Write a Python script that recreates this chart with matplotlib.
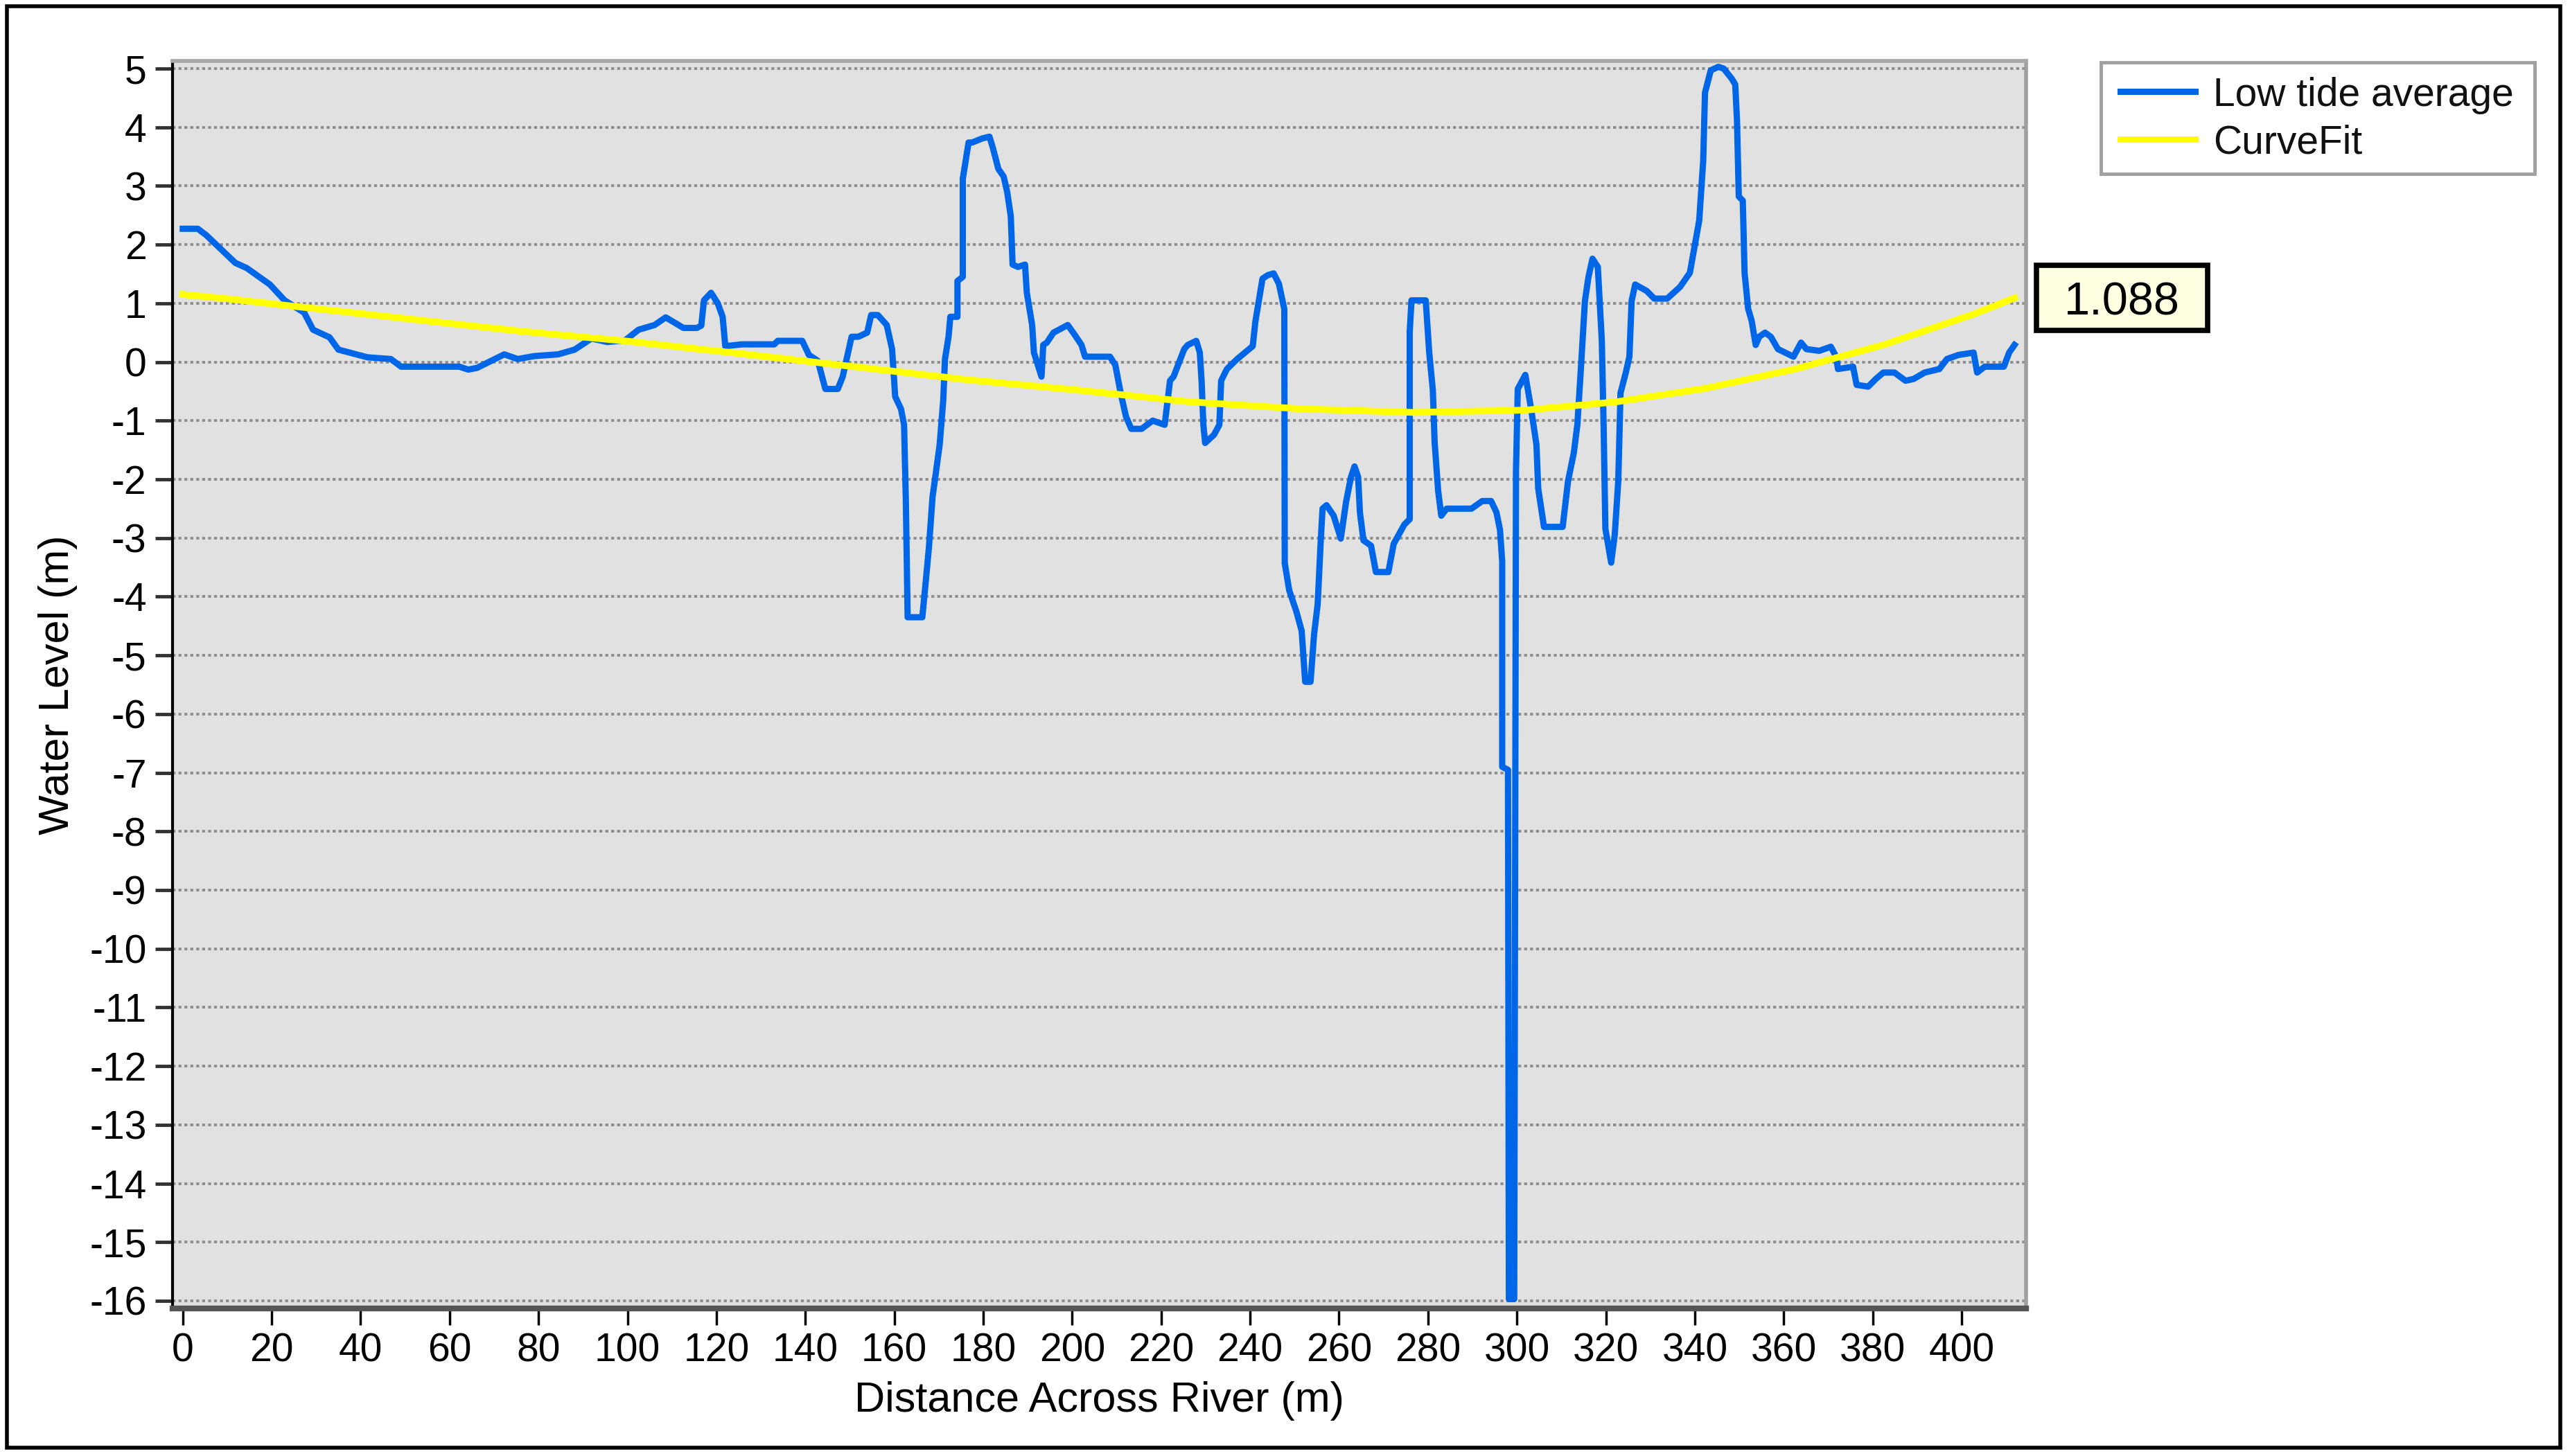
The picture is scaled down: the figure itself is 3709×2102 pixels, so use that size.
"""
Water level across the river: low tide average with its curve fit.
Saves out.png (3709 x 2102).
"""

import matplotlib
matplotlib.use("Agg")
import matplotlib.pyplot as plt
import matplotlib.transforms as mtransforms
from matplotlib.patches import Rectangle
from matplotlib.lines import Line2D

plt.rcParams["font.family"] = ["Liberation Sans", "DejaVu Sans"]
plt.rcParams["axes.unicode_minus"] = False

# ─── Data ────────────────────────────────────────────────────────
LOW_TIDE_X = [
    0.0, 3.4, 5.3, 11.8, 14.4, 19.6, 22.9, 27.3, 29.3, 33.0,
    35.0, 41.5, 46.8, 49.1, 62.2, 64.2, 66.2, 72.3, 75.3, 79.0,
    84.4, 88.1, 91.9, 95.5, 99.5, 102.5, 106.1, 108.6, 112.6, 115.6,
    116.6, 117.2, 118.8, 120.3, 121.4, 122.0, 125.7, 133.0, 133.8, 139.3,
    140.8, 142.8, 144.5, 147.3, 148.4, 150.4, 151.9, 153.9, 154.8, 156.3,
    158.3, 159.5, 160.2, 161.5, 162.2, 162.6, 163.0, 166.3, 167.0, 167.8,
    168.6, 169.4, 170.2, 171.0, 171.4, 172.2, 172.6, 174.2, 174.2, 175.4,
    175.4, 176.7, 177.5, 179.8, 181.4, 182.2, 183.4, 184.6, 185.4, 186.2,
    186.6, 187.8, 189.4, 189.8, 191.0, 191.4, 193.1, 193.5, 194.3, 195.8,
    199.0, 200.6, 202.1, 202.9, 208.5, 209.7, 210.9, 212.1, 213.3, 215.6,
    218.1, 220.8, 222.0, 222.8, 225.2, 226.0, 227.9, 228.7, 229.1, 229.5,
    229.9, 231.9, 233.1, 233.5, 234.8, 237.1, 240.6, 241.2, 242.8, 244.0,
    245.3, 246.5, 247.7, 247.8, 248.8, 250.4, 251.6, 252.4, 253.6, 254.4,
    255.2, 255.9, 256.3, 257.2, 258.8, 260.4, 261.6, 262.7, 263.5, 264.3,
    264.7, 265.5, 267.2, 268.3, 271.1, 272.3, 274.7, 275.9, 275.9, 276.3,
    279.5, 280.3, 281.1, 281.5, 282.3, 283.0, 284.2, 289.8, 292.2, 294.2,
    295.4, 296.2, 296.7, 296.7, 298.0, 298.2, 299.4, 299.8, 300.2, 301.9,
    303.2, 304.4, 304.8, 306.1, 310.3, 311.5, 312.8, 313.6, 314.5, 315.3,
    316.1, 317.0, 318.2, 319.1, 319.5, 319.9, 321.2, 322.0, 322.8, 323.3,
    324.5, 325.3, 325.8, 326.6, 329.2, 330.9, 333.8, 336.7, 338.9, 340.2,
    341.0, 341.9, 342.3, 343.6, 345.3, 346.5, 348.3, 349.1, 349.5, 349.9,
    350.8, 351.2, 352.0, 352.8, 353.7, 354.5, 355.8, 357.1, 358.7, 362.2,
    363.9, 365.1, 368.0, 370.6, 371.8, 372.2, 375.6, 376.4, 379.0, 380.7,
    382.4, 384.9, 387.4, 389.2, 391.7, 395.0, 396.7, 399.3, 402.7, 403.5,
    405.2, 409.5, 410.7, 411.9,
]
LOW_TIDE_Y = [
    2.27, 2.27, 2.16, 1.69, 1.60, 1.32, 1.05, 0.84, 0.55, 0.42,
    0.21, 0.08, 0.05, -0.08, -0.08, -0.13, -0.10, 0.13, 0.05, 0.10,
    0.13, 0.21, 0.40, 0.34, 0.37, 0.55, 0.63, 0.76, 0.58, 0.58,
    0.62, 1.05, 1.18, 1.00, 0.77, 0.27, 0.30, 0.30, 0.36, 0.36,
    0.12, 0.02, -0.46, -0.46, -0.25, 0.43, 0.43, 0.50, 0.80, 0.80,
    0.63, 0.22, -0.59, -0.80, -1.07, -2.37, -4.35, -4.35, -3.80, -3.15,
    -2.30, -1.86, -1.41, -0.66, 0.05, 0.43, 0.77, 0.77, 1.38, 1.45,
    3.12, 3.74, 3.74, 3.81, 3.84, 3.64, 3.29, 3.16, 2.89, 2.48,
    1.66, 1.62, 1.66, 1.18, 0.63, 0.16, -0.25, 0.29, 0.33, 0.50,
    0.63, 0.46, 0.29, 0.09, 0.09, -0.05, -0.53, -0.93, -1.14, -1.14,
    -1.00, -1.07, -0.32, -0.25, 0.22, 0.29, 0.36, 0.16, -0.32, -1.07,
    -1.38, -1.24, -1.07, -0.32, -0.12, 0.05, 0.27, 0.69, 1.42, 1.48,
    1.51, 1.33, 0.90, -3.43, -3.89, -4.25, -4.58, -5.45, -5.45, -4.64,
    -4.13, -3.04, -2.50, -2.44, -2.62, -3.01, -2.38, -1.96, -1.78, -1.96,
    -2.56, -3.04, -3.13, -3.58, -3.58, -3.10, -2.77, -2.68, 0.51, 1.05,
    1.05, 0.15, -0.48, -1.36, -2.20, -2.62, -2.50, -2.50, -2.37, -2.37,
    -2.56, -2.86, -3.40, -6.90, -6.95, -15.97, -15.97, -1.86, -0.46, -0.22,
    -0.80, -1.41, -2.16, -2.81, -2.81, -2.03, -1.55, -1.07, 0.02, 1.04,
    1.45, 1.76, 1.62, 0.36, -1.07, -2.84, -3.42, -2.95, -2.03, -0.53,
    -0.18, 0.09, 1.04, 1.32, 1.21, 1.08, 1.08, 1.28, 1.52, 2.07,
    2.41, 3.43, 4.59, 4.97, 5.03, 5.00, 4.83, 4.73, 4.11, 2.82,
    2.75, 1.52, 0.91, 0.70, 0.29, 0.43, 0.50, 0.43, 0.22, 0.09,
    0.33, 0.22, 0.19, 0.26, 0.09, -0.12, -0.08, -0.39, -0.42, -0.29,
    -0.18, -0.18, -0.32, -0.29, -0.18, -0.12, 0.05, 0.12, 0.16, -0.18,
    -0.08, -0.08, 0.16, 0.29,
]

FIT_X = [0.0, 9.8, 24.9, 50.1, 75.3, 100.5, 125.7, 150.9, 176.1, 201.3,
         226.5, 251.7, 276.9, 302.1, 322.3, 342.4, 362.6, 382.8, 402.9, 411.9]
FIT_Y = [1.15, 1.08, 0.95, 0.74, 0.53, 0.35, 0.14, -0.08, -0.30, -0.48,
         -0.68, -0.80, -0.86, -0.82, -0.68, -0.45, -0.12, 0.30, 0.82, 1.09]
FIT_END_VALUE = 1.088

SERIES_NAMES = ["Low tide average", "CurveFit"]
X_TICKS = list(range(0, 401, 20))
Y_TICKS = list(range(-16, 6))

# ─── Style ───────────────────────────────────────────────────────
BLUE = "#0066e8"
YELLOW = "#ffff00"
W, H = 3709, 2102          # output size in px (dpi 100)

fig = plt.figure(figsize=(W / 100, H / 100), dpi=100)
fig.patch.set_facecolor("white")

ax = fig.add_axes([249 / W, 1 - 1889 / H, (2924 - 249) / W, (1889 - 88) / H])
ax.set_facecolor("#e1e1e1")

ax.plot(LOW_TIDE_X, LOW_TIDE_Y, color=BLUE, linewidth=6.5,
        solid_joinstyle="round", zorder=3)
ax.plot(FIT_X, FIT_Y, color=YELLOW, linewidth=7,
        solid_joinstyle="round", zorder=4)

ax.set_xlim(-2.3, 414.5)
ax.set_ylim(-16.13, 5.13)
ax.set_xticks(X_TICKS)
ax.set_yticks(Y_TICKS)
ax.grid(axis="y", color="#8e8e8e", linestyle=(0, (1.1, 1.1)), linewidth=2.8)
ax.set_axisbelow(True)

ax.spines["left"].set_color("black")
ax.spines["left"].set_linewidth(3)
ax.spines["top"].set_color("#a8a8a8")
ax.spines["top"].set_linewidth(4)
ax.spines["right"].set_color("#a0a0a0")
ax.spines["right"].set_linewidth(4)
ax.spines["bottom"].set_color("#555555")
ax.spines["bottom"].set_linewidth(6)

ax.tick_params(axis="y", length=18, width=3.5, color="#333333", pad=9,
               labelsize=41, labelcolor="black")
ax.tick_params(axis="x", length=17, width=2.5, color="black", pad=8,
               labelsize=41, labelcolor="black")

ax.set_xlabel("Distance Across River (m)", fontsize=44)
ax.xaxis.set_label_coords(0.5, -0.0583)
ax.set_ylabel("Water Level (m)", fontsize=44)
ax.yaxis.set_label_coords(-0.0512, 0.5)

# ─── Value box at the end of the fit ─────────────────────────────
trans = mtransforms.blended_transform_factory(ax.transAxes, ax.transData)
ax.add_patch(Rectangle((1.0056, FIT_END_VALUE - 0.555), 0.0923, 1.11,
                       transform=trans, facecolor="#ffffe1",
                       edgecolor="black", linewidth=5.5, clip_on=False))
ax.text(1.0056 + 0.0923 / 2, FIT_END_VALUE, f"{FIT_END_VALUE:.3f}",
        transform=trans, ha="center", va="center_baseline",
        fontsize=48, color="black", clip_on=False)

# ─── Legend (drawn by hand to match the box) ─────────────────────
fig.add_artist(Rectangle((3032 / W, 1 - 251 / H), 626 / W, 161 / H,
                         transform=fig.transFigure, facecolor="white",
                         edgecolor="#a0a0a0", linewidth=3.5))
for name, color, y_line, y_base in zip(SERIES_NAMES, [BLUE, YELLOW],
                                       [132, 201], [153, 221]):
    fig.add_artist(Line2D([3060 / W, 3168 / W], [1 - y_line / H] * 2,
                          color=color, linewidth=6.5,
                          transform=fig.transFigure))
    fig.text(3194 / W, 1 - y_base / H, name, fontsize=41,
             va="baseline", ha="left", color="#111111")

# ─── Outer frame ─────────────────────────────────────────────────
fig.add_artist(Rectangle((10 / W, 1 - 2090 / H), (3695 - 10) / W,
                         (2090 - 9) / H, transform=fig.transFigure,
                         fill=False, edgecolor="black", linewidth=4))

fig.savefig("out.png", dpi=100)
plt.close(fig)
